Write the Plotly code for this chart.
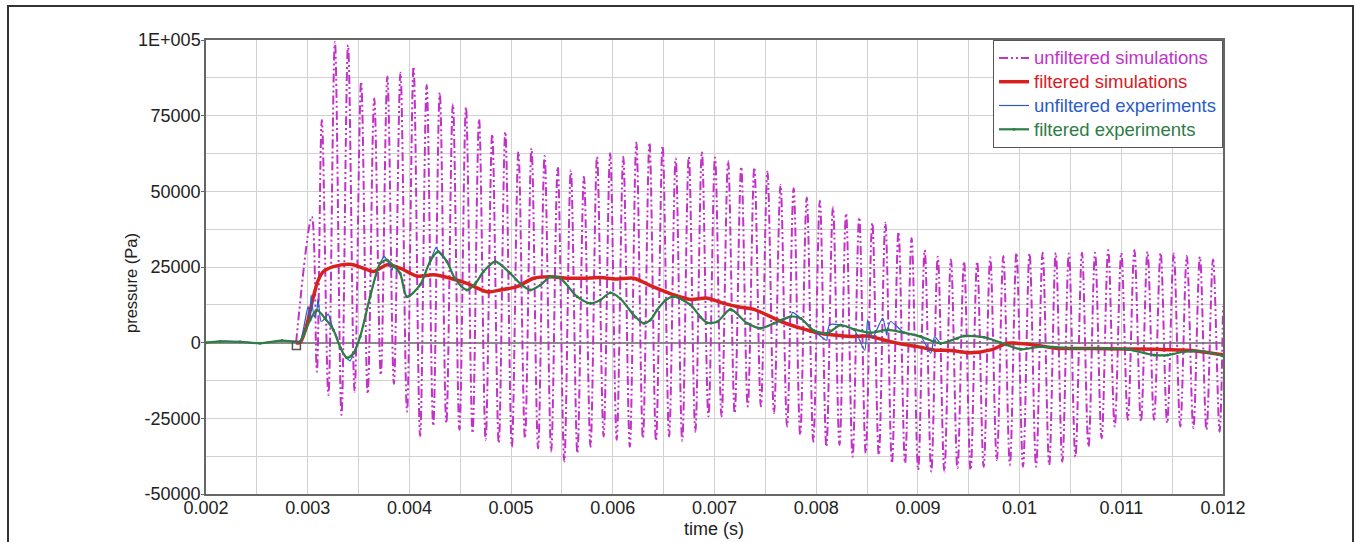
import plotly.graph_objects as go

# ---------------- data ----------------
# unfiltered simulations: start, first small peak/trough, then regular oscillation extrema
sim_start_t = 0.002886
sim_start_p = 0.0
sim_first_peak_t = 0.003040
sim_first_peak_p = 41600
sim_first_trough_t = 0.003090
sim_first_trough_p = -9600
sim_peak0_t = 0.0031388          # time of the second peak
sim_period = 0.00012887          # oscillation period
sim_peaks = [73600, 99400, 98300, 86200, 80700, 87900, 89200, 91200, 85100, 82600,
             78800, 77800, 73800, 68900, 69700, 63100, 64200, 61700, 58100, 57000,
             54800, 61400, 62600, 61400, 66100, 66100,
             65000, 60900, 61400, 63100, 61200, 60100, 58100, 57900, 56500, 52100,
             51000, 48000, 46900, 44700, 42700, 41400, 39600, 39600, 36600, 34500,
             30600, 28400, 27500,
             26800, 26800, 28200, 28600, 29700, 29500, 29700, 29700, 29500, 29700,
             29700, 30600, 29700, 30600, 30100, 29700, 29500, 28600, 28400, 27500]
sim_troughs = [-17300, -23900, -16200, -16900, -10700, -13600, -22800, -30800, -27500, -26600,
               -28800, -29900, -32100, -33200, -34400, -31600, -34900, -36000, -39300, -36500,
               -34400, -31000, -32100, -34400, -31600,
               -32400, -31000, -32400, -29400, -24400, -24400, -23300, -21100, -21100, -23300,
               -27700, -30500, -32700, -34400, -33800, -37700, -36500, -37100, -39800, -39800,
               -42100, -42600, -42600, -41500,
               -42100, -41000, -38800, -40400, -41000, -41000, -40400, -39300, -37700, -34400,
               -31600, -27700, -25500, -26100, -25500, -26600, -27700, -28200, -28800, -29400]
sim_end_t = 0.012
sim_end_p = 12000

# filtered simulations
fsim_t = [0.002886, 0.002925, 0.002984, 0.003056, 0.003102, 0.003155, 0.003253, 0.003417,
          0.003548, 0.003647, 0.003779, 0.003909, 0.004074, 0.004237, 0.004402, 0.004566,
          0.004763, 0.004894, 0.005058, 0.005222, 0.005386, 0.005550, 0.005714, 0.005878,
          0.006026, 0.006206, 0.006353, 0.006599, 0.006764, 0.006928, 0.007092, 0.007256,
          0.007387, 0.007519, 0.007682, 0.007846, 0.008011, 0.008174, 0.008339, 0.008503,
          0.008666, 0.008831, 0.008995, 0.009159, 0.009323, 0.009520, 0.009717, 0.009881,
          0.010044, 0.010209, 0.010373, 0.010701, 0.011029, 0.011357, 0.011685, 0.012000]
fsim_p = [0, 0, 5000, 15200, 20500, 23500, 25100, 25900,
          24600, 23500, 25700, 24600, 22000, 22400, 21300, 19600,
          16800, 17400, 18500, 21300, 21800, 21300, 21300, 21500,
          21000, 21300, 19100, 15800, 14300, 14700, 13000, 11700,
          11000, 9100, 6600, 4800, 3300, 2500, 2000, 2200,
          900, -400, -1300, -2400, -2600, -3300, -2400, -200,
          -400, -1100, -1900, -1900, -2100, -2200, -2600, -4000]

# filtered experiments
fexp_t = [0.002000, 0.002138, 0.002335, 0.002531, 0.002748, 0.002886, 0.002925, 0.003024,
          0.003090, 0.003171, 0.003253, 0.003319, 0.003385, 0.003450, 0.003516, 0.003614,
          0.003713, 0.003779, 0.003841, 0.003909, 0.003975, 0.004106, 0.004205, 0.004283,
          0.004369, 0.004451, 0.004566, 0.004648, 0.004729, 0.004844, 0.004992, 0.005091,
          0.005189, 0.005287, 0.005386, 0.005484, 0.005649, 0.005780, 0.005878, 0.005976,
          0.006075, 0.006222, 0.006304, 0.006370, 0.006436, 0.006518, 0.006599, 0.006764,
          0.006862, 0.006928, 0.007027, 0.007157, 0.007322, 0.007453, 0.007584, 0.007748,
          0.007846, 0.007977, 0.008109, 0.008240, 0.008371, 0.008535, 0.008700, 0.008863,
          0.009028, 0.009224, 0.009389, 0.009454, 0.009651, 0.009815, 0.010012, 0.010209,
          0.010537, 0.010865, 0.011062, 0.011324, 0.011456, 0.011619, 0.011816, 0.012000]
fexp_p = [0, 400, 300, -200, 700, 300, 300, 7500,
          10800, 8000, 4200, -1500, -5000, -3500, 2000, 15200,
          26200, 27300, 25500, 22900, 15200, 19100, 27000, 30100,
          26800, 21000, 17400, 19500, 23500, 26800, 22900, 19500,
          17400, 19000, 21800, 21300, 15200, 13000, 14100, 16500,
          14500, 8500, 6400, 7500, 10800, 14000, 15200, 12500,
          8500, 6600, 6900, 11000, 6400, 4800, 6400, 8600,
          8100, 4000, 3100, 5800, 4400, 3300, 4200, 3300,
          2000, -200, 1500, 2200, 1800, 0, -2200, -1300,
          -1900, -1900, -2200, -4100, -4100, -3000, -3000, -4400]

# unfiltered experiments: same signal plus the noise spikes seen in the picture
uexp_spike_t = [0.003004, 0.003033, 0.003063, 0.003102, 0.003132, 0.003201, 0.003280, 0.003417,
                0.003752, 0.003831, 0.004264, 0.007768, 0.008104, 0.008134, 0.008477, 0.008506,
                0.008555, 0.008654, 0.008693, 0.008732, 0.009126, 0.009165]
uexp_spike_p = [12000, 15800, 8500, 14500, 7000, 9500, 2500, -6000,
                28500, 24000, 31500, 10000, 800, 6000, -2500, 7500,
                1500, 8100, 2500, 7000, -3500, 2000]

# start marker (open square)
marker_t = [0.002889]
marker_p = [-900]

# axis ticks and titles
x_tick_vals = [0.002, 0.003, 0.004, 0.005, 0.006, 0.007, 0.008, 0.009, 0.010, 0.011, 0.012]
x_tick_text = ["0.002", "0.003", "0.004", "0.005", "0.006", "0.007", "0.008", "0.009", "0.01", "0.011", "0.012"]
y_tick_vals = [-50000, -25000, 0, 25000, 50000, 75000, 100000]
y_tick_text = ["-50000", "-25000", "0", "25000", "50000", "75000", "1E+005"]
x_title = "time (s)"
y_title = "pressure (Pa)"

series_names = ["unfiltered simulations", "filtered simulations",
                "unfiltered experiments", "filtered experiments"]

# ---------------- build series ----------------
assert len(sim_peaks) == len(sim_troughs)
sim_t = [sim_start_t, sim_first_peak_t, sim_first_trough_t]
sim_p = [sim_start_p, sim_first_peak_p, sim_first_trough_p]
for i, (pk, tr) in enumerate(zip(sim_peaks, sim_troughs)):
    tp = sim_peak0_t + i * sim_period
    sim_t += [tp, tp + sim_period / 2]
    sim_p += [pk, tr]
sim_t.append(sim_end_t)
sim_p.append(sim_end_p)

pairs = sorted(list(zip(fexp_t, fexp_p)) + list(zip(uexp_spike_t, uexp_spike_p)))
uexp_t = [a for a, b in pairs]
uexp_p = [b for a, b in pairs]

C_MAG = "#C232C8"
C_RED = "#D8201E"
C_BLUE = "#2A5BC8"
C_GREEN = "#2E7D46"

def lname(txt, col):
    return f"<span style='color:{col};font-size:18.5px'>{txt}</span>"

FONT = "Liberation Sans, Arial, sans-serif"

fig = go.Figure()
fig.add_trace(go.Scatter(
    x=sim_t, y=sim_p, mode="lines", name=lname(series_names[0], C_MAG),
    line=dict(color=C_MAG, width=2.0, shape="spline", smoothing=1.0,
              dash="9px,3px,2px,3px,2px,3px")))
fig.add_trace(go.Scatter(
    x=fsim_t, y=fsim_p, mode="lines", name=lname(series_names[1], C_RED),
    line=dict(color=C_RED, width=3.5, shape="spline", smoothing=0.8)))
fig.add_trace(go.Scatter(
    x=uexp_t, y=uexp_p, mode="lines", name=lname(series_names[2], C_BLUE),
    line=dict(color=C_BLUE, width=1.2, shape="spline", smoothing=0.6)))
fig.add_trace(go.Scatter(
    x=fexp_t, y=fexp_p, mode="lines+markers", name=lname(series_names[3], C_GREEN),
    line=dict(color=C_GREEN, width=2.2, shape="spline", smoothing=0.8),
    marker=dict(color=C_GREEN, size=3)))
fig.add_trace(go.Scatter(
    x=marker_t, y=marker_p, mode="markers", showlegend=False,
    marker=dict(symbol="square-open", size=8, color="#555555", line=dict(width=1.5))))

# layout geometry (pixels)
W, H = 1355, 542
L, R, T, B = 206, 132, 40, 48
pw, ph = W - L - R, H - T - B

def px_x(x):
    return (x - L) / pw

def px_y(y):
    return (H - B - y) / ph

# outer frame of the figure
fig.add_shape(type="rect", xref="paper", yref="paper",
              x0=px_x(8), x1=px_x(1353), y0=px_y(575), y1=px_y(6),
              line=dict(color="#333333", width=2), fillcolor="rgba(0,0,0,0)", layer="above")

# axis titles as annotations for exact placement
fig.add_annotation(text=y_title, xref="paper", yref="paper", x=px_x(131), y=px_y(283),
                   textangle=-90, showarrow=False, xanchor="center", yanchor="middle",
                   font=dict(family=FONT, size=16.5, color="#222222"))
fig.add_annotation(text=x_title, xref="paper", yref="paper", x=px_x(714), y=px_y(529),
                   showarrow=False, xanchor="center", yanchor="middle",
                   font=dict(family=FONT, size=18, color="#222222"))

fig.update_layout(
    width=W, height=H,
    margin=dict(l=L, r=R, t=T, b=B),
    plot_bgcolor="white", paper_bgcolor="white",
    font=dict(family=FONT, size=18, color="#222222"),
    showlegend=True,
    legend=dict(x=1.0, xanchor="right", y=1.0, yanchor="top",
                bgcolor="white", bordercolor="#555555", borderwidth=1,
                font=dict(family=FONT, size=16), traceorder="normal",
                tracegroupgap=0, itemwidth=30),
    xaxis=dict(range=[0.002, 0.012], tickvals=x_tick_vals, ticktext=x_tick_text,
               showgrid=True, gridcolor="#d2d2d2", gridwidth=1,
               minor=dict(dtick=0.0005, tick0=0.002, showgrid=True, gridcolor="#d2d2d2", gridwidth=1),
               showline=True, linecolor="#666666", linewidth=1.5, mirror=True,
               ticks="", zeroline=False, automargin=False, ticklabelstandoff=-3,
               tickfont=dict(size=18, color="#222222")),
    yaxis=dict(range=[-50000, 100000], tickvals=y_tick_vals, ticktext=y_tick_text,
               showgrid=True, gridcolor="#d2d2d2", gridwidth=1,
               minor=dict(dtick=12500, tick0=0, showgrid=True, gridcolor="#d2d2d2", gridwidth=1),
               showline=True, linecolor="#666666", linewidth=1.5, mirror=True,
               ticks="outside", ticklen=3, tickcolor="#666666", ticklabelstandoff=-3,
               zeroline=True, zerolinecolor="#8a8a8a", zerolinewidth=1.5,
               automargin=False,
               tickfont=dict(size=18, color="#222222")),
)

fig.write_html("out.html",
               config={"displayModeBar": False},
               post_script="document.body.style.margin='0px';document.body.style.overflow='hidden';")
